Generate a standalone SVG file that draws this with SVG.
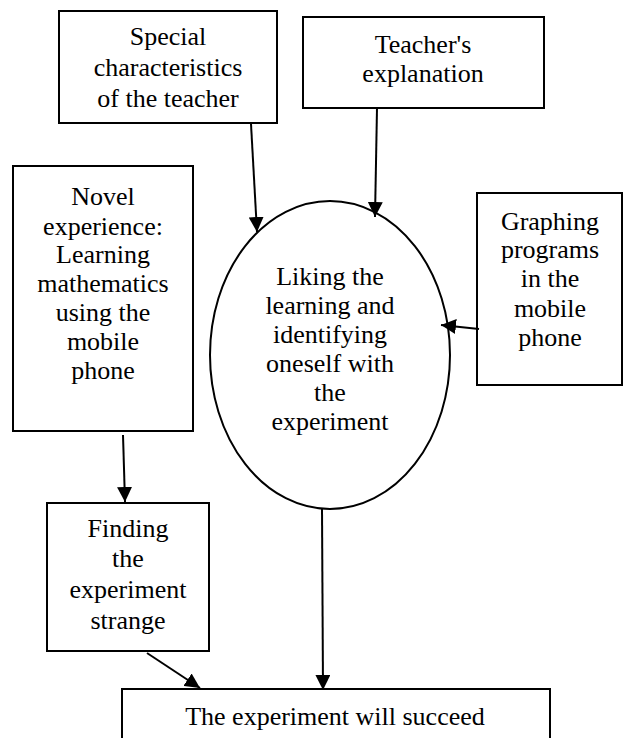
<svg xmlns="http://www.w3.org/2000/svg" width="624" height="738" viewBox="0 0 624 738">
<style>
.box{fill:#fff;stroke:#000;stroke-width:2}
.t{font-family:'Liberation Serif','DejaVu Serif','Times New Roman',serif;font-size:26px;fill:#000;text-anchor:middle}
.c{stroke:#000;stroke-width:2;fill:none;marker-end:url(#ah)}
</style>
<defs>
<marker id="ah" markerUnits="userSpaceOnUse" markerWidth="15" markerHeight="15" viewBox="0 0 14 14" refX="14" refY="7" orient="auto">
<path d="M0,0 L14,7 L0,14 z" fill="#000"/>
</marker>
</defs>
<rect width="624" height="738" fill="#fff"/>
<g id="special">
<rect class="box" x="59" y="11" width="218" height="112"/>
<text class="t" x="168" y="45">Special</text>
<text class="t" x="168" y="76">characteristics</text>
<text class="t" x="168" y="107">of the teacher</text>
</g>
<g id="explanation">
<rect class="box" x="303" y="17" width="241" height="91"/>
<text class="t" x="423" y="53">Teacher's</text>
<text class="t" x="423" y="82">explanation</text>
</g>
<g id="novel">
<rect class="box" x="13" y="166" width="180" height="265"/>
<text class="t" x="103" y="205">Novel</text>
<text class="t" x="103" y="235">experience:</text>
<text class="t" x="103" y="263">Learning</text>
<text class="t" x="103" y="292">mathematics</text>
<text class="t" x="103" y="321">using the</text>
<text class="t" x="103" y="350">mobile</text>
<text class="t" x="103" y="379">phone</text>
</g>
<g id="liking">
<ellipse cx="330" cy="355" rx="120" ry="154" fill="#fff" stroke="#000" stroke-width="2"/>
<text class="t" x="330" y="285">Liking the</text>
<text class="t" x="330" y="314">learning and</text>
<text class="t" x="330" y="343">identifying</text>
<text class="t" x="330" y="372">oneself with</text>
<text class="t" x="330" y="401">the</text>
<text class="t" x="330" y="430">experiment</text>
</g>
<g id="graphing">
<rect class="box" x="477" y="193" width="145" height="192"/>
<text class="t" x="550" y="230">Graphing</text>
<text class="t" x="550" y="258">programs</text>
<text class="t" x="550" y="287">in the</text>
<text class="t" x="550" y="317">mobile</text>
<text class="t" x="550" y="346">phone</text>
</g>
<g id="finding">
<rect class="box" x="47" y="503" width="162" height="148"/>
<text class="t" x="128" y="537">Finding</text>
<text class="t" x="128" y="567">the</text>
<text class="t" x="128" y="598">experiment</text>
<text class="t" x="128" y="629">strange</text>
</g>
<g id="succeed">
<rect class="box" x="122" y="689" width="428" height="60"/>
<text class="t" x="335" y="725">The experiment will succeed</text>
</g>
<g id="connectors">
<line class="c" x1="251" y1="124" x2="257" y2="232"/>
<line class="c" x1="377" y1="108" x2="375" y2="217"/>
<line class="c" x1="479" y1="329" x2="441" y2="325"/>
<line class="c" x1="123" y1="435" x2="125" y2="502"/>
<line class="c" x1="147" y1="653" x2="200" y2="688"/>
<line class="c" x1="322" y1="509" x2="323" y2="690"/>
</g>
</svg>
